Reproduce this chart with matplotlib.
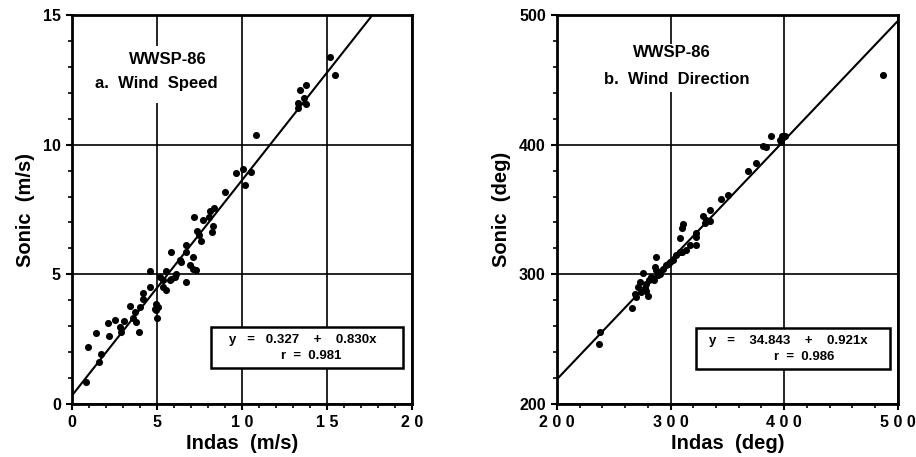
"""
WWSP-86: Sonic vs Indas comparison (wind speed and wind direction)
"""

import numpy as np
import matplotlib
matplotlib.use("Agg")
import matplotlib.pyplot as plt
from matplotlib.patches import Rectangle
from matplotlib.ticker import MultipleLocator

plt.rcParams['font.family'] = ['Liberation Sans', 'DejaVu Sans']
plt.rcParams['font.weight'] = 'bold'

# ---- wind speed (m/s) ----
speed_indas = [15.2, 15.5, 13.8, 13.4, 13.65, 13.3, 13.75, 13.3, 10.85, 9.67,
               10.06, 10.55, 10.18, 9.0, 8.34, 8.1, 7.2, 7.7, 8.04, 8.3,
               8.26, 7.35, 7.5, 7.6, 6.73, 5.85, 6.73, 7.12, 6.33, 6.43,
               6.92, 7.12, 7.32, 4.57, 5.55, 6.14, 6.04, 5.85, 5.16, 5.35,
               5.75, 6.69, 5.35, 5.55, 4.57, 4.18, 4.18, 4.02, 3.43, 3.69,
               4.96, 5.06, 4.86, 4.96, 5.02, 3.59, 3.79, 3.94, 3.06, 2.8,
               2.9, 2.51, 2.12, 2.18, 1.39, 0.94, 1.73, 1.59, 0.85]
speed_sonic = [13.4, 12.7, 12.3, 12.1, 11.8, 11.6, 11.56, 11.4, 10.37, 8.9,
               9.06, 8.96, 8.46, 8.19, 7.57, 7.46, 7.23, 7.08, 7.2, 6.85,
               6.63, 6.69, 6.5, 6.27, 6.12, 5.88, 5.86, 5.67, 5.54, 5.47,
               5.35, 5.22, 5.15, 5.12, 5.13, 5.03, 4.9, 4.83, 4.9, 4.77,
               4.77, 4.71, 4.51, 4.38, 4.51, 4.28, 4.06, 3.74, 3.77, 3.55,
               3.87, 3.74, 3.68, 3.62, 3.3, 3.3, 3.17, 2.78, 3.19, 2.97,
               2.78, 3.23, 3.13, 2.62, 2.72, 2.2, 1.92, 1.63, 0.83]
speed_fit = (0.327, 0.830, 0.981)

# ---- wind direction (deg) ----
dir_indas = [487.0, 388.8, 396.0, 398.5, 400.5, 397.6, 381.4, 384.4, 375.0, 368.2,
             350.6, 344.8, 335.1, 328.6, 331.6, 334.5, 330.1, 311.0, 310.4, 308.7,
             322.7, 322.1, 322.7, 316.9, 313.3, 310.4, 302.2, 299.3, 296.3, 293.4,
             290.5, 287.5, 286.0, 286.9, 275.7, 283.1, 281.0, 278.7, 272.8, 271.3,
             268.4, 269.9, 274.3, 278.7, 280.1, 266.0, 238.2, 237.0, 288.9, 285.2,
             277.2, 297.8, 305.2, 308.0]
dir_sonic = [453.7, 406.6, 404.0, 406.6, 406.6, 402.0, 398.8, 398.0, 386.0, 379.4,
             361.3, 358.0, 349.7, 345.0, 341.8, 341.4, 339.3, 338.8, 335.4, 327.7,
             331.6, 328.9, 322.5, 322.5, 319.1, 317.3, 311.4, 309.5, 307.0, 304.4,
             300.5, 303.1, 305.6, 313.4, 301.0, 297.9, 295.3, 292.7, 294.0, 290.1,
             285.0, 282.3, 286.2, 287.5, 283.6, 273.8, 255.9, 246.6, 299.2, 295.8,
             289.6, 308.3, 314.7, 317.3]
dir_fit = (34.843, 0.921, 0.986)


def style_axes(ax, xlim, ylim, major, minor, xticklabels, xlabel, ylabel):
    ax.set_xlim(*xlim)
    ax.set_ylim(*ylim)
    ax.xaxis.set_major_locator(MultipleLocator(major))
    ax.yaxis.set_major_locator(MultipleLocator(major))
    ax.xaxis.set_minor_locator(MultipleLocator(minor))
    ax.yaxis.set_minor_locator(MultipleLocator(minor))
    ax.set_xticks(np.arange(xlim[0], xlim[1] + major / 2, major))
    ax.set_xticklabels(xticklabels)
    ax.grid(True, which='major', color='black', linewidth=1.2)
    ax.set_axisbelow(True)
    for s in ax.spines.values():
        s.set_linewidth(2)
    ax.tick_params(which='major', direction='out', length=4, width=1.5,
                   labelsize=11.5, pad=4)
    ax.tick_params(which='minor', direction='out', length=3, width=1.2)
    ax.set_xlabel(xlabel, fontsize=14.5, fontweight='bold', labelpad=3)
    ax.set_ylabel(ylabel, fontsize=14.5, fontweight='bold', labelpad=6)


def draw_panel(ax, xs, ys, fit, xlim):
    a, b, r = fit
    lx = np.array(xlim, dtype=float)
    ax.plot(lx, a + b * lx, color='black', linewidth=1.5, zorder=3)
    ax.scatter(xs, ys, s=26, color='black', zorder=4, linewidths=0)


def title_block(ax, x0, y0, w, h, lines):
    # white patch hiding the grid behind the panel caption
    ax.add_patch(Rectangle((x0, y0), w, h, facecolor='white', edgecolor='none',
                           zorder=2))
    for x, y, s in lines:
        ax.text(x, y, s, ha='center', va='center', fontsize=12,
                fontweight='bold', zorder=5)


def fit_box(ax, x0, y0, w, h, line1, line2):
    ax.add_patch(Rectangle((x0, y0), w, h, facecolor='white',
                           edgecolor='black', linewidth=1.8, zorder=5))
    for x, y, s in (line1, line2):
        ax.text(x, y, s, ha='center', va='center', fontsize=9.5,
                fontweight='bold', zorder=6)


fig = plt.figure(figsize=(9.16, 4.57), dpi=100)
ax1 = fig.add_axes([0.0786, 0.116, 0.371, 0.851])
ax2 = fig.add_axes([0.608, 0.116, 0.372, 0.851])

# left: wind speed
style_axes(ax1, (0, 20), (0, 15), 5, 1,
           ['0', '5', '1 0', '1 5', '2 0'],
           'Indas  (m/s)', 'Sonic  (m/s)')
draw_panel(ax1, speed_indas, speed_sonic, speed_fit, (0, 20))
ax1.set_ylim(0, 15)
title_block(ax1, 1.0, 11.6, 8.6, 2.2,
            [(5.63, 13.3, 'WWSP-86'), (4.98, 12.38, 'a.  Wind  Speed')])
a, b, r = speed_fit
fit_box(ax1, 8.16, 1.38, 19.5 - 8.16, 2.96 - 1.38,
        (13.6, 2.46, f'y   =   {a:.3f}    +    {b:.3f}x'),
        (14.1, 1.85, f'r  =  {r:.3f}'))

# right: wind direction
style_axes(ax2, (200, 500), (200, 500), 100, 20,
           ['2 0 0', '3 0 0', '4 0 0', '5 0 0'],
           'Indas  (deg)', 'Sonic  (deg)')
draw_panel(ax2, dir_indas, dir_sonic, dir_fit, (200, 500))
ax2.set_ylim(200, 500)
title_block(ax2, 232, 441, 150, 37,
            [(301, 470.8, 'WWSP-86'), (305.3, 450.6, 'b.  Wind  Direction')])
a, b, r = dir_fit
fit_box(ax2, 322.1, 227, 493 - 322.1, 258.8 - 227,
        (404, 248.7, f'y   =    {a:.3f}    +    {b:.3f}x'),
        (418, 236.3, f'r  =  {r:.3f}'))

fig.savefig('out.png', dpi=100)
